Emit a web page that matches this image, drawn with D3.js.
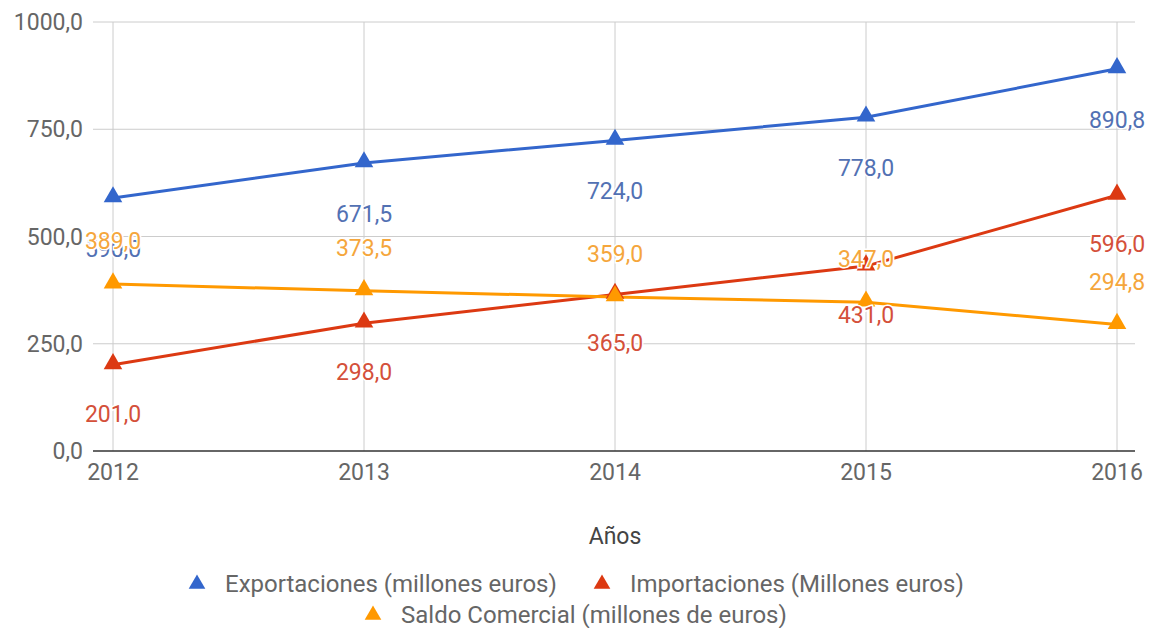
<!DOCTYPE html>
<html>
<head>
<meta charset="utf-8">
<script src="https://cdn.jsdelivr.net/npm/d3@7"></script>
<style>
  body { margin: 0; background: #fff; }
  svg { font-family: Roboto, 'Noto Sans', sans-serif; }
</style>
</head>
<body>
<div id="chart"></div>
<script>
const years = ['2012', '2013', '2014', '2015', '2016']
const exportaciones = [590.0, 671.5, 724.0, 778.0, 890.8]
const importaciones = [201.0, 298.0, 365.0, 431.0, 596.0]
const saldo = [389.0, 373.5, 359.0, 347.0, 294.8]
const yTicks = [0, 250, 500, 750, 1000]

const seriesNames = [
  'Exportaciones (millones euros)',
  'Importaciones (Millones euros)',
  'Saldo Comercial (millones de euros)'
]
const seriesColors = ['#3366cc', '#dc3912', '#ff9900']
const labelColors = ['#5271b3', '#d4503a', '#f5a63c']
// label offsets relative to marker (px): exports & imports below, saldo above
const labelDy = [51, 49, -43]

const width = 1155
const height = 628
const margin = {left: 93, right: 20, top: 22, bottom: 176}

const fmt = v => d3.format('.1f')(v).replace('.', ',')

const svg = d3.select('#chart').append('svg')
  .attr('width', width)
  .attr('height', height)

const x = d3.scalePoint()
  .domain(years)
  .range([113, 1117])

const y = d3.scaleLinear()
  .domain([0, 1000])
  .range([height - margin.bottom - 1, margin.top])

// horizontal gridlines
svg.append('g')
  .selectAll('line')
  .data(yTicks.slice(1))
  .enter()
  .append('line')
  .attr('x1', margin.left)
  .attr('x2', width - margin.right)
  .attr('y1', d => y(d))
  .attr('y2', d => y(d))
  .style('stroke', '#cccccc')
  .style('stroke-width', 1)

// vertical gridlines
svg.append('g')
  .selectAll('line')
  .data(years)
  .enter()
  .append('line')
  .attr('x1', d => x(d))
  .attr('x2', d => x(d))
  .attr('y1', y(1000))
  .attr('y2', y(0))
  .style('stroke', '#cccccc')
  .style('stroke-width', 1)

// baseline
svg.append('line')
  .attr('x1', margin.left)
  .attr('x2', width - margin.right)
  .attr('y1', y(0))
  .attr('y2', y(0))
  .style('stroke', '#333')
  .style('stroke-width', 1.5)

// y axis labels
svg.append('g')
  .selectAll('text')
  .data(yTicks)
  .enter()
  .append('text')
  .attr('x', 83)
  .attr('y', d => y(d))
  .attr('dy', '0.35em')
  .attr('text-anchor', 'end')
  .style('font-size', '23px')
  .style('fill', '#666')
  .text(d => fmt(d))

// x axis labels
svg.append('g')
  .selectAll('text')
  .data(years)
  .enter()
  .append('text')
  .attr('x', d => x(d))
  .attr('y', y(0) + 29)
  .attr('text-anchor', 'middle')
  .style('font-size', '23px')
  .style('fill', '#666')
  .text(d => d)

// axis title
svg.append('text')
  .attr('x', 615)
  .attr('y', 544)
  .attr('text-anchor', 'middle')
  .style('font-size', '23px')
  .style('fill', '#444')
  .text('Años')

const allSeries = [exportaciones, importaciones, saldo]

const line = d3.line()
  .x((d, i) => x(years[i]))
  .y(d => y(d))

const triangle = d3.symbol().type(d3.symbolTriangle).size(150)

allSeries.forEach((values, s) => {
  svg.append('path')
    .datum(values)
    .attr('d', line)
    .style('fill', 'none')
    .style('stroke', seriesColors[s])
    .style('stroke-width', 3)
})

allSeries.forEach((values, s) => {
  svg.append('g')
    .selectAll('path')
    .data(values)
    .enter()
    .append('path')
    .attr('d', triangle)
    .attr('transform', (d, i) => `translate(${x(years[i])},${y(d) - 1})`)
    .style('fill', seriesColors[s])
})

// data labels
allSeries.forEach((values, s) => {
  svg.append('g')
    .selectAll('text')
    .data(values)
    .enter()
    .append('text')
    .attr('x', (d, i) => x(years[i]))
    .attr('y', d => y(d) + labelDy[s])
    .attr('dy', '0.35em')
    .attr('text-anchor', 'middle')
    .style('font-size', '23px')
    .style('fill', labelColors[s])
    .style('stroke', '#fff')
    .style('stroke-width', 3)
    .style('paint-order', 'stroke')
    .text(d => fmt(d))
})

// legend
const legendItems = [
  {name: seriesNames[0], color: seriesColors[0], x: 197, y: 584},
  {name: seriesNames[1], color: seriesColors[1], x: 602, y: 584},
  {name: seriesNames[2], color: seriesColors[2], x: 373, y: 615}
]

const legend = svg.append('g')
  .selectAll('g')
  .data(legendItems)
  .enter()
  .append('g')
  .attr('transform', d => `translate(${d.x},${d.y})`)

legend.append('path')
  .attr('d', d3.symbol().type(d3.symbolTriangle).size(120))
  .style('fill', d => d.color)

legend.append('text')
  .attr('x', 28)
  .attr('dy', '0.35em')
  .style('font-size', '24px')
  .style('fill', '#666')
  .text(d => d.name)
</script>
</body>
</html>
